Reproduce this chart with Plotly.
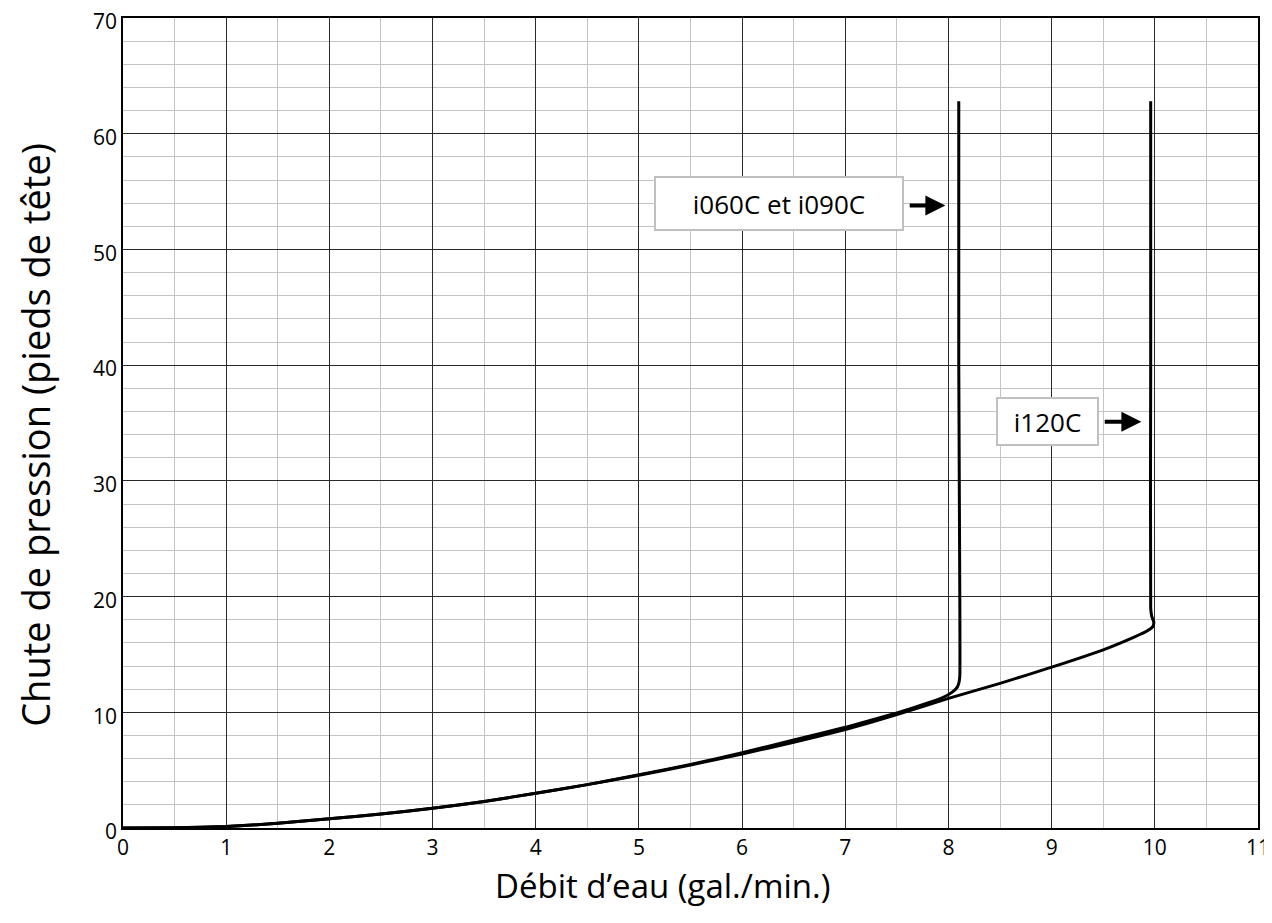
import plotly.graph_objects as go

# i060C et i090C curve
x_060 = [0, 0.5, 1, 1.5, 2, 2.5, 3, 3.5, 4, 4.5, 5, 5.5, 6, 6.5, 7, 7.5, 7.8, 7.95, 8.03, 8.08, 8.1, 8.11, 8.11, 8.1, 8.1]
y_060 = [0, 0.03, 0.12, 0.4, 0.8, 1.2, 1.7, 2.3, 3.0, 3.75, 4.6, 5.5, 6.5, 7.6, 8.7, 9.95, 10.8, 11.3, 11.7, 12.1, 12.5, 13.1, 20, 40, 62.8]

# i120C curve
x_120 = [0, 0.5, 1, 1.5, 2, 2.5, 3, 3.5, 4, 4.5, 5, 5.5, 6, 6.5, 7, 7.5, 8, 8.5, 9, 9.5, 9.8, 9.92, 9.98, 9.99, 9.97, 9.96, 9.96, 9.96]
y_120 = [0, 0.03, 0.12, 0.4, 0.8, 1.2, 1.7, 2.3, 3.0, 3.75, 4.55, 5.45, 6.4, 7.4, 8.5, 9.8, 11.2, 12.5, 13.9, 15.4, 16.5, 17.0, 17.4, 17.8, 18.3, 19, 40, 62.8]

x_ticks = list(range(0, 12))
y_ticks = list(range(0, 71, 10))

FONT = "Open Sans"

fig = go.Figure()
fig.add_trace(go.Scatter(x=x_060, y=y_060, mode="lines",
                         line=dict(color="black", width=3, shape="spline", smoothing=0.4),
                         showlegend=False))
fig.add_trace(go.Scatter(x=x_120, y=y_120, mode="lines",
                         line=dict(color="black", width=3, shape="spline", smoothing=0.4),
                         showlegend=False))

# page has an 8px body margin, so the figure is sized/offset to compensate
fig.update_layout(
    width=1264, height=915,
    margin=dict(l=115, r=14, t=10, b=95),
    paper_bgcolor="white", plot_bgcolor="white",
    font=dict(family=FONT, color="black"),
    showlegend=False,
)
fig.update_xaxes(
    range=[0, 11], tickvals=x_ticks, ticktext=[str(v) for v in x_ticks],
    showgrid=True, gridcolor="#2a2a2a", gridwidth=1,
    minor=dict(dtick=0.5, showgrid=True, gridcolor="#c4c4c4", gridwidth=1),
    showline=True, linecolor="black", linewidth=1.5, mirror=True,
    zeroline=False, ticks="", tickfont=dict(size=21, family=FONT),
    automargin=False, ticklabeloverflow="allow",
)
fig.update_yaxes(
    range=[0, 70], tickvals=y_ticks, ticktext=[str(v) for v in y_ticks],
    showgrid=True, gridcolor="#2a2a2a", gridwidth=1,
    minor=dict(dtick=2, showgrid=True, gridcolor="#c4c4c4", gridwidth=1),
    showline=True, linecolor="black", linewidth=1.5, mirror=True,
    zeroline=False, ticks="", tickfont=dict(size=21, family=FONT),
    automargin=False, ticklabeloverflow="allow", ticklabelshift=4,
)

# axis titles
fig.add_annotation(x=0.475, y=-0.071, xref="paper", yref="paper",
                   text="Débit d’eau (gal./min.)", showarrow=False,
                   font=dict(size=33, family=FONT), xanchor="center", yanchor="middle")
fig.add_annotation(x=-0.0771, y=0.486, xref="paper", yref="paper",
                   text="Chute de pression (pieds de tête)", showarrow=False, textangle=-90,
                   font=dict(size=38, family=FONT), xanchor="center", yanchor="middle")

# label boxes
fig.add_annotation(x=6.36, y=53.97, xref="x", yref="y", text="i060C et i090C",
                   showarrow=False, font=dict(size=26, family=FONT),
                   bgcolor="white", bordercolor="#c0c0c0", borderwidth=2,
                   width=240, height=45, borderpad=3)
fig.add_annotation(x=8.96, y=35.1, xref="x", yref="y", text="i120C",
                   showarrow=False, font=dict(size=26, family=FONT),
                   bgcolor="white", bordercolor="#c0c0c0", borderwidth=2,
                   width=93, height=39, borderpad=3)
# arrows
fig.add_annotation(x=7.97, y=53.8, ax=7.61, ay=53.8, xref="x", yref="y",
                   axref="x", ayref="y", text="", showarrow=True,
                   arrowhead=2, arrowsize=1.0, arrowwidth=4, arrowcolor="black")
fig.add_annotation(x=9.87, y=35.1, ax=9.50, ay=35.1, xref="x", yref="y",
                   axref="x", ayref="y", text="", showarrow=True,
                   arrowhead=2, arrowsize=1.0, arrowwidth=4, arrowcolor="black")

fig.write_html("out.html")
